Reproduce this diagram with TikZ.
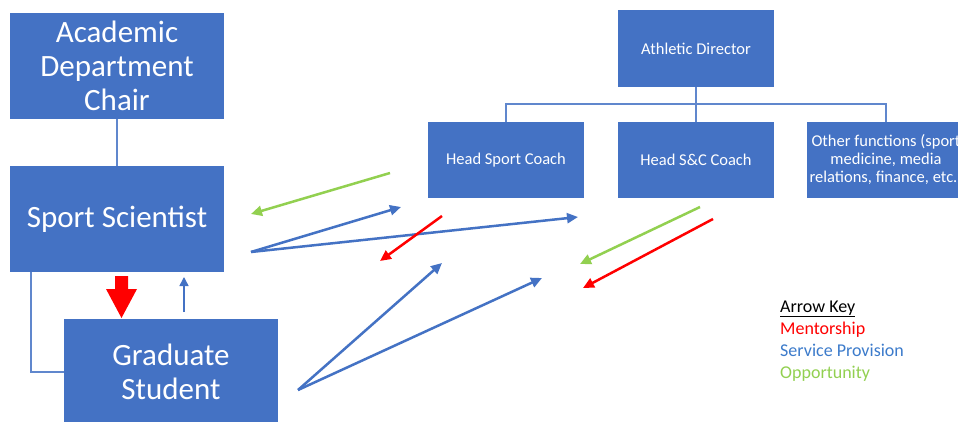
\documentclass[tikz,border=0pt]{standalone}
\usepackage{fontspec}
\setmainfont{Carlito}
\usetikzlibrary{arrows.meta}
\definecolor{boxblue}{HTML}{4472C4}
\definecolor{linkblue}{HTML}{4472C4}
\definecolor{mred}{HTML}{FF0000}
\definecolor{ogreen}{HTML}{92D050}
\definecolor{keyblue}{HTML}{3C7BCB}
\begin{document}
\begin{tikzpicture}[x=1pt,y=-1pt,
  bigbox/.style={fill=boxblue, text=white, inner sep=0pt, outer sep=0pt, minimum width=214pt, minimum height=106pt, align=center, font=\fontsize{31}{34}\selectfont},
  smallbox/.style={fill=boxblue, text=white, inner sep=0pt, outer sep=0pt, minimum width=156pt, minimum height=76pt, align=center, font=\fontsize{16.5}{18}\selectfont},
  orgline/.style={draw=boxblue!85!white, line width=1.2pt},
  relarrow/.style={line width=2.5pt, -{Triangle[length=11pt,width=10pt]}},
  service/.style={relarrow, draw=linkblue},
  mentor/.style={relarrow, draw=mred},
  opport/.style={relarrow, draw=ogreen},
  keytext/.style={anchor=base west, inner sep=0pt, font=\fontsize{18}{22}\selectfont}
]
\useasboundingbox (0,0) rectangle (958,422);
\fill[white] (0,0) rectangle (958,422);
\clip (0,0) rectangle (958,422);

% boxes
\node[bigbox] (chair) at (117,66) {Academic\\Department\\Chair};
\node[bigbox] (ss) at (117,219) {Sport Scientist};
\node[bigbox] (gs) at (171,372) {Graduate\\Student};
\node[smallbox, minimum height=77pt] (ad) at (696,48.5) {Athletic Director};
\node[smallbox] (hsc) at (506,160) {Head Sport Coach};
\node[smallbox] (hsnc) at (696,160) {Head S\&C Coach};
\node[smallbox, minimum width=158pt] (oth) at (886,160) {Other functions (sport\\medicine, media\\relations, finance, etc.)};

% org lines
\coordinate (bus) at (696,104);
\draw[orgline] (ad.south) -- (hsnc.north);
\draw[orgline] (hsc.north) -- (hsc.north |- bus) -- (oth.north |- bus) -- (oth.north);
\draw[orgline] (chair.south) -- (ss.north);
\draw[orgline] ([xshift=-86pt]ss.south) |- (gs.west);

% mentorship block arrow
\fill[mred] (115,276) -- (128,276) -- (128,289) -- (137,289) -- (121.5,318) -- (106,289) -- (115,289) -- cycle;

% service up arrow
\coordinate (upfrom) at (184,312);
\coordinate (upto) at (184,277);
\draw[linkblue, line width=1.5pt, -{Triangle[length=9pt,width=9pt]}] (upfrom) -- (upto);

% free arrows
\coordinate (ssout) at (251,252);
\coordinate (gsout) at (298,390);
\coordinate (s1) at (401,207);
\coordinate (s2) at (578,217);
\coordinate (s3) at (442,263);
\coordinate (s4) at (542,278);
\coordinate (g1a) at (390,173);
\coordinate (g1b) at (251,214);
\coordinate (g2a) at (700,207);
\coordinate (g2b) at (580,264);
\coordinate (r1a) at (442,216);
\coordinate (r1b) at (380,261);
\coordinate (r2a) at (713,219);
\coordinate (r2b) at (583,288);

\draw[opport] (g1a) -- (g1b);
\draw[service] (ssout) -- (s1);
\draw[service] (ssout) -- (s2);
\draw[mentor] (r1a) -- (r1b);
\draw[service] (gsout) -- (s3);
\draw[service] (gsout) -- (s4);
\draw[opport] (g2a) -- (g2b);
\draw[mentor] (r2a) -- (r2b);

% legend
\node[keytext] (keyhead) at (780,312) {\underline{Arrow Key}};
\node[keytext, text=mred] (k1) at (780,334) {Mentorship};
\node[keytext, text=keyblue] (k2) at (780,356) {Service Provision};
\node[keytext, text=ogreen] (k3) at (780,378) {Opportunity};
\end{tikzpicture}
\end{document}
